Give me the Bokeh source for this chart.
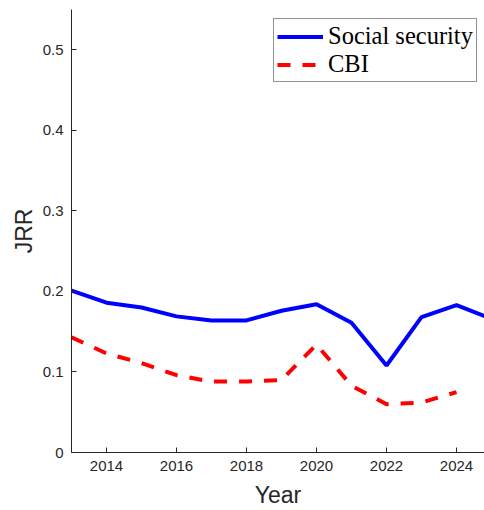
from bokeh.plotting import figure
from bokeh.models import FixedTicker, Range1d, Legend, LegendItem
from bokeh.embed import file_html
from bokeh.resources import INLINE

# Replacement rates by year
years_ss = [2013, 2014, 2015, 2016, 2017, 2018, 2019, 2020, 2021, 2022, 2023, 2024, 2025]
social_security = [0.201, 0.186, 0.180, 0.169, 0.164, 0.164, 0.176, 0.184, 0.161, 0.108, 0.168, 0.183, 0.166]

years_cbi = [2013, 2014, 2015, 2016, 2017, 2018, 2019, 2020, 2021, 2022, 2023, 2024]
cbi = [0.143, 0.123, 0.111, 0.096, 0.088, 0.088, 0.090, 0.134, 0.083, 0.060, 0.062, 0.075]

x_ticks = [2014, 2016, 2018, 2020, 2022, 2024]
y_ticks = [0, 0.1, 0.2, 0.3, 0.4, 0.5]
y_tick_labels = {0: "0", 0.1: "0.1", 0.2: "0.2", 0.3: "0.3", 0.4: "0.4", 0.5: "0.5"}

axis_color = "#262626"

p = figure(
    frame_width=413, frame_height=443,
    min_border_left=71, min_border_right=0, min_border_top=9, min_border_bottom=58,
    x_range=Range1d(2013, 2024.8), y_range=Range1d(0, 0.55),
    output_backend="svg", toolbar_location=None,
)
p.outline_line_color = None
p.grid.grid_line_color = None
p.background_fill_color = "white"
p.border_fill_color = "white"

for ax in (p.xaxis[0], p.yaxis[0]):
    ax.axis_line_color = axis_color
    ax.axis_line_width = 1
    ax.major_tick_line_color = axis_color
    ax.major_tick_in = 5
    ax.major_tick_out = 0
    ax.minor_tick_line_color = None
    ax.major_label_text_font = "Liberation Sans"
    ax.major_label_text_font_size = "15px"
    ax.major_label_text_color = axis_color
    ax.axis_label_text_font = "Liberation Sans"
    ax.axis_label_text_font_size = "23px"
    ax.axis_label_text_font_style = "normal"
    ax.axis_label_text_color = axis_color

p.xaxis.ticker = FixedTicker(ticks=x_ticks)
p.yaxis.ticker = FixedTicker(ticks=y_ticks)
p.yaxis.major_label_overrides = y_tick_labels
p.xaxis.major_label_standoff = 8
p.yaxis.major_label_standoff = 8
p.xaxis.axis_label = "Year"
p.yaxis.axis_label = "JRR"
p.xaxis.axis_label_standoff = 8
p.yaxis.axis_label_standoff = 3

r_ss = p.line(years_ss, social_security, line_color="#0000ff", line_width=4)
r_cbi = p.line(years_cbi, cbi, line_color="#ff0000", line_width=4, line_dash="13 12")

legend = Legend(
    items=[LegendItem(label="Social security", renderers=[r_ss]),
           LegendItem(label="CBI", renderers=[r_cbi])],
    location=(202, 370),
    margin=0,
    padding=3,
    spacing=0,
    glyph_width=46,
    glyph_height=27,
    label_height=27,
    label_standoff=5,
    label_text_font="Liberation Serif",
    label_text_font_size="24.5px",
    label_text_color="black",
    border_line_color=axis_color,
    border_line_width=1,
    background_fill_alpha=1,
)
p.add_layout(legend)

open("out.html", "w").write(file_html(p, INLINE))
